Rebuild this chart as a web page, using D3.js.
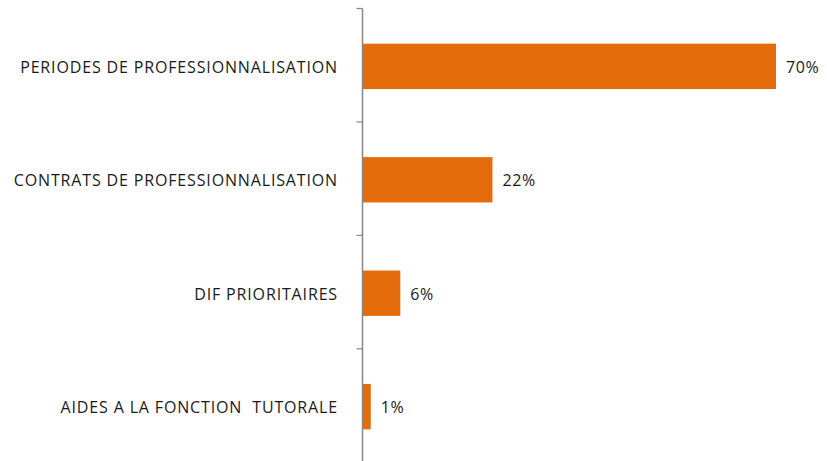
<!DOCTYPE html>
<html>
<head>
<meta charset="utf-8">
<script src="https://cdn.jsdelivr.net/npm/d3@7"></script>
<style>
  html, body { margin: 0; padding: 0; background: #fff; }
  svg { display: block; }
  text { font-family: "Open Sans", "Lato", sans-serif; fill: #1a1a1a; }
</style>
</head>
<body>
<svg id="chart" width="827" height="461"></svg>
<script>
const categories = [
  "PERIODES DE PROFESSIONNALISATION",
  "CONTRATS DE PROFESSIONNALISATION",
  "DIF PRIORITAIRES",
  "AIDES A LA FONCTION  TUTORALE"
];
const values = [70, 22, 6.4, 1.4];
const valueLabels = ["70%", "22%", "6%", "1%"];

const svg = d3.select("#chart");
const axisX = 362.5;

const y = d3.scaleBand()
  .domain(categories)
  .range([8.5, 464.5])
  .paddingInner(0.6)
  .paddingOuter(0.31);

const x = d3.scaleLinear()
  .domain([0, 70])
  .range([axisX, 776]);

// bars
svg.selectAll("rect.bar")
  .data(values)
  .enter().append("rect")
  .attr("class", "bar")
  .attr("x", x(0))
  .attr("y", (d, i) => y(categories[i]))
  .attr("width", d => x(d) - x(0))
  .attr("height", y.bandwidth())
  .attr("fill", "#E46C0A");

// axis line and boundary ticks
const boundaries = categories.map(c => y(c) - y.step() * y.paddingOuter());
boundaries.push(boundaries[boundaries.length - 1] + y.step());

svg.append("line")
  .attr("x1", axisX).attr("x2", axisX)
  .attr("y1", boundaries[0]).attr("y2", boundaries[boundaries.length - 1])
  .attr("stroke", "#868686").attr("stroke-width", 1.5);

svg.selectAll("line.tick")
  .data(boundaries)
  .enter().append("line")
  .attr("class", "tick")
  .attr("x1", axisX - 6).attr("x2", axisX)
  .attr("y1", d => d).attr("y2", d => d)
  .attr("stroke", "#868686").attr("stroke-width", 1.2);

// category labels
svg.selectAll("text.cat")
  .data(categories)
  .enter().append("text")
  .attr("class", "cat")
  .attr("x", 338)
  .attr("y", d => y(d) + y.bandwidth() / 2 + 1)
  .attr("dy", "0.35em")
  .attr("text-anchor", "end")
  .attr("font-size", 16)
  .attr("letter-spacing", 0.85)
  .style("white-space", "pre")
  .text(d => d);

// value labels
svg.selectAll("text.val")
  .data(values)
  .enter().append("text")
  .attr("class", "val")
  .attr("x", d => x(d) + 10)
  .attr("y", (d, i) => y(categories[i]) + y.bandwidth() / 2 + 1)
  .attr("dy", "0.35em")
  .attr("font-size", 16)
  .attr("letter-spacing", 0.6)
  .text((d, i) => valueLabels[i]);
</script>
</body>
</html>
